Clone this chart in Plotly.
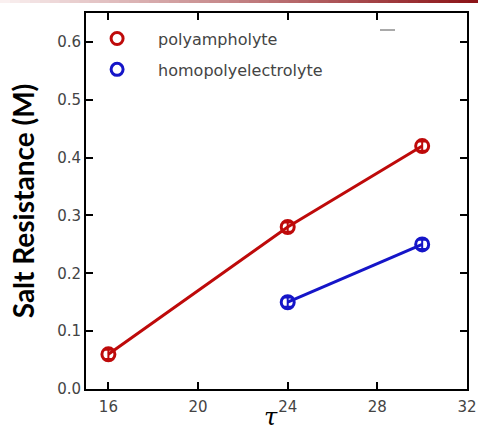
import plotly.graph_objects as go

# Data
tau_poly = [16, 24, 30]
sr_poly = [0.06, 0.28, 0.42]
err_poly = [0.008, 0.008, 0.008]

tau_homo = [24, 30]
sr_homo = [0.15, 0.25]
err_homo = [0.008, 0.008]

x_ticks = [16, 20, 24, 28, 32]
y_ticks = [0.0, 0.1, 0.2, 0.3, 0.4, 0.5, 0.6]

RED = "#BE0A0A"
BLUE = "#1515C8"
TICKFONT = dict(family="DejaVu Sans", size=15, color="#444444")

fig = go.Figure()

for xs, ys, es, col, name, grp in [
    (tau_poly, sr_poly, err_poly, RED, "polyampholyte", "a"),
    (tau_homo, sr_homo, err_homo, BLUE, "homopolyelectrolyte", "b"),
]:
    fig.add_trace(go.Scatter(
        x=xs, y=ys, mode="lines+markers", name=name, showlegend=False,
        line=dict(color=col, width=3),
        marker=dict(symbol="circle-open", size=13, color=col, line=dict(width=3, color=col)),
        error_y=dict(type="data", array=es, color=col, thickness=2, width=5),
    ))
    # legend entry: marker only
    fig.add_trace(go.Scatter(
        x=[None], y=[None], mode="markers", name=name, legendgroup=grp,
        marker=dict(symbol="circle-open", size=12, color=col, line=dict(width=3, color=col)),
    ))

# decorative gradient strip at the top (slide header)
n = 48
c0 = (250, 240, 240)
c1 = (140, 20, 24)
shapes = []
for i in range(n):
    t = i / (n - 1)
    col = "rgb(%d,%d,%d)" % tuple(int(c0[k] + (c1[k] - c0[k]) * t) for k in range(3))
    shapes.append(dict(type="rect", xref="paper", yref="paper",
                       x0=-86/381 + i * (478/381) / n, x1=-86/381 + (i + 1) * (478/381) / n + 0.002,
                       y0=1 + 10/376, y1=1 + 13/376, line=dict(width=0), fillcolor=col, layer="above"))
shapes.append(dict(type="line", xref="paper", yref="paper", x0=(380-86)/381, x1=(395-86)/381,
                   y0=(389-30)/376, y1=(389-30)/376, line=dict(color="#555555", width=1)))

fig.update_layout(
    width=478, height=433,
    margin=dict(l=86, r=11, t=13, b=44, autoexpand=False),
    paper_bgcolor="white", plot_bgcolor="white",
    showlegend=True,
    legend=dict(x=-0.026, y=0.977, xanchor="left", yanchor="top",
                font=dict(family="DejaVu Sans", size=16, color="#444444"),
                bgcolor="rgba(0,0,0,0)", itemwidth=72, tracegroupgap=7,
                traceorder="grouped"),
    shapes=shapes,
    annotations=[dict(text="<i>τ</i>", xref="paper", yref="paper", x=(271-86)/381, y=-0.117,
                      xanchor="center", yanchor="bottom", showarrow=False,
                      font=dict(family="DejaVu Serif", size=24, color="black"))],
    xaxis=dict(range=[15, 32], tickvals=x_ticks, ticktext=[str(v) for v in x_ticks],
               ticks="inside", ticklen=7, tickwidth=2, tickcolor="black",
               showline=True, linecolor="black", linewidth=2, mirror="ticks",
               showgrid=False, zeroline=False, tickfont=TICKFONT, automargin=False,
               ticklabelstandoff=3),
    yaxis=dict(range=[0, 0.65], tickvals=y_ticks, ticktext=["%.1f" % v for v in y_ticks],
               ticks="inside", ticklen=7, tickwidth=2, tickcolor="black",
               showline=True, linecolor="black", linewidth=2, mirror="ticks",
               showgrid=False, zeroline=False, tickfont=TICKFONT, automargin=False,
               title=dict(text="<b>Salt Resistance (M)</b>", font=dict(family="Lato", size=28, color="black"), standoff=14)),
)

fig.write_html("out.html")
